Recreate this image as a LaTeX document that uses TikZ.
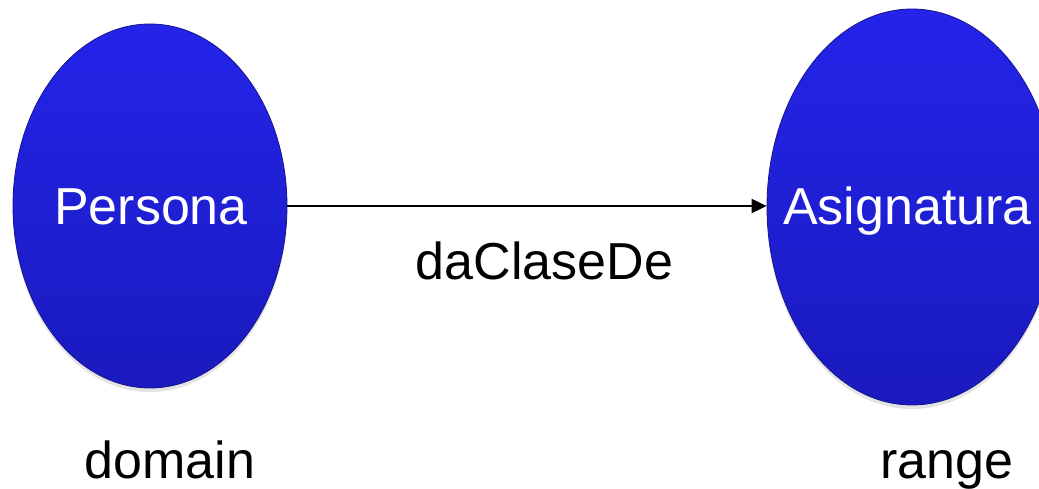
\documentclass[tikz,border=0pt]{standalone}
\usepackage{fontspec}
\setmainfont{Liberation Sans}
\usetikzlibrary{shapes.geometric,arrows.meta,shadows}
\definecolor{ovaltop}{RGB}{36,36,234}
\definecolor{ovalbot}{RGB}{26,26,190}
\definecolor{ovalrim}{RGB}{22,22,140}
\begin{document}
\begin{tikzpicture}[x=1pt,y=1pt,
  oval/.style={ellipse, inner sep=0pt, top color=ovaltop, bottom color=ovalbot,
    draw=ovalrim, line width=0.8pt,
    drop shadow={opacity=0.22, shadow xshift=0pt, shadow yshift=-4pt}},
  intext/.style={anchor=base, text=white, font=\fontsize{52}{60}\selectfont, inner sep=0pt},
  lbl/.style={anchor=base, font=\fontsize{52}{60}\selectfont, text=black, inner sep=0pt},
  link/.style={line width=2pt, -{Triangle[length=15pt,width=14pt]}}]
\useasboundingbox (0,0) rectangle (1039,489);
\clip (0,0) rectangle (1039,489);
\node[oval, minimum width=274pt, minimum height=364pt] (persona) at (150,283) {};
\node[oval, minimum width=290pt, minimum height=396pt] (asig) at (912,282) {};
\node[intext] (personaText) at (151,264) {Persona};
\node[intext] (asigText) at (907.5,264) {Asignatura};
\draw[link] (persona.east) -- (asig.west |- persona.east);
\node[lbl] (rel) at (544.5,209) {daClaseDe};
\node[lbl] (dom) at (170,10) {domain};
\node[lbl] (rng) at (946.5,10) {range};
\end{tikzpicture}
\end{document}
